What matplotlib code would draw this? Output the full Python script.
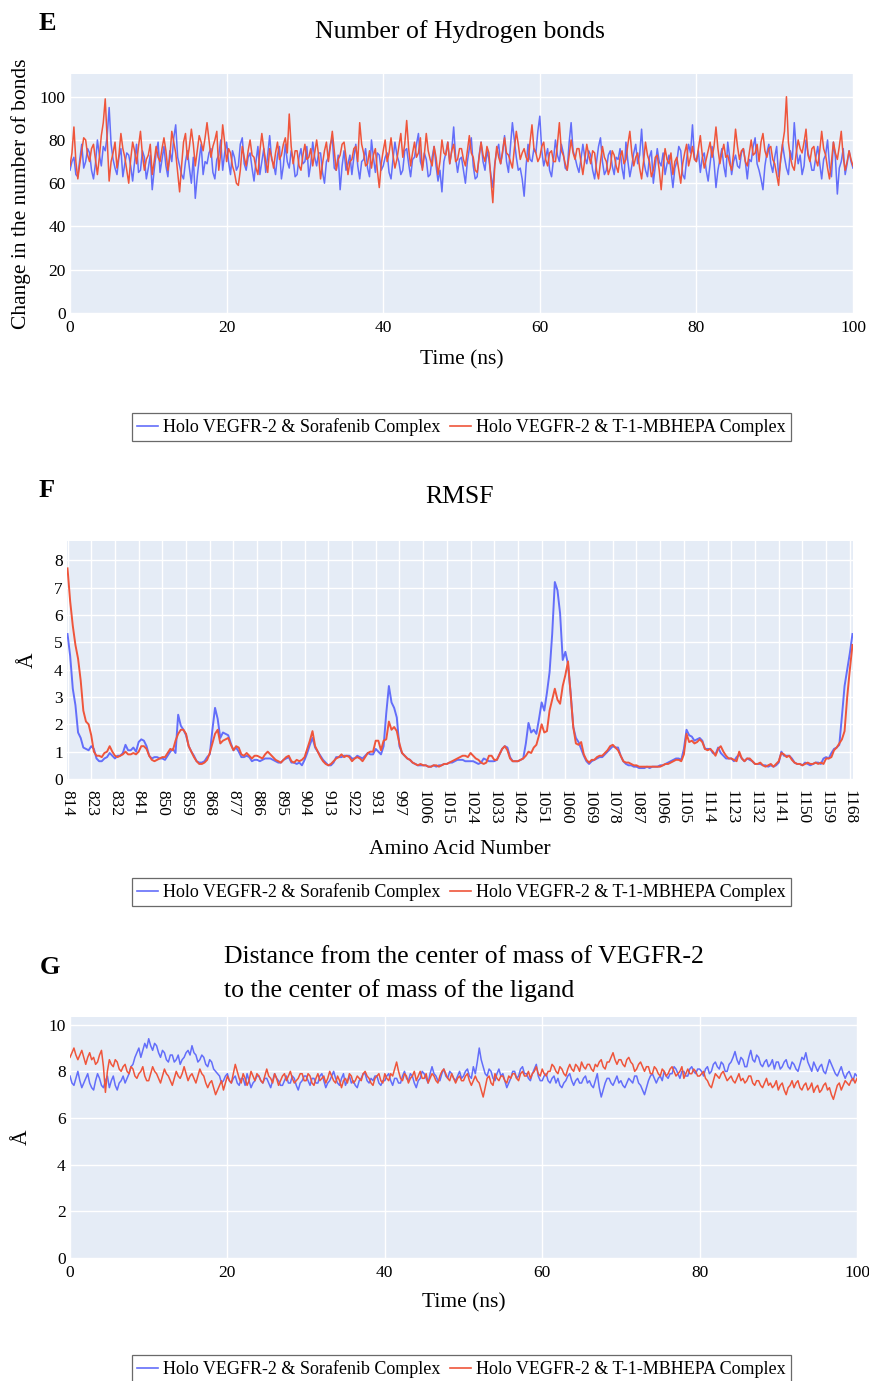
import numpy as np
import matplotlib
matplotlib.use("Agg")
import matplotlib.pyplot as plt
from matplotlib.lines import Line2D

plt.rcParams['font.family'] = ['Liberation Serif', 'DejaVu Serif']

# ---------------- data ----------------
series_names = ["Holo VEGFR-2 & Sorafenib Complex", "Holo VEGFR-2 & T-1-MBHEPA Complex"]
colors = ["#636EFA", "#EF553B"]

time_ns = [i * 0.25 for i in range(401)]

hbond_sorafenib = [
    66, 70, 72, 64, 63, 71, 78, 67, 70, 76, 74, 66, 62, 69, 80, 73, 68, 77, 75, 82,
    95, 78, 71, 67, 64, 72, 76, 63, 69, 74, 73, 68, 61, 70, 78, 65, 66, 75, 72, 62,
    67, 73, 57, 66, 74, 79, 65, 71, 77, 68, 63, 75, 70, 81, 87, 72, 68, 64, 62, 70,
    75, 67, 60, 72, 53, 63, 71, 78, 64, 70, 69, 74, 76, 65, 62, 71, 73, 80, 66, 74,
    79, 70, 64, 75, 72, 66, 68, 78, 81, 69, 66, 72, 74, 67, 61, 70, 77, 64, 70, 76,
    65, 73, 82, 71, 69, 64, 73, 77, 62, 68, 78, 70, 67, 75, 71, 63, 64, 72, 76, 69,
    70, 77, 63, 69, 79, 72, 68, 74, 74, 65, 60, 70, 72, 78, 81, 67, 66, 73, 57, 68,
    75, 66, 69, 73, 64, 72, 78, 68, 62, 70, 71, 76, 67, 63, 80, 72, 65, 74, 73, 66,
    68, 72, 74, 65, 62, 71, 79, 73, 70, 64, 66, 75, 76, 69, 63, 71, 72, 78, 83, 70,
    67, 74, 71, 63, 64, 72, 77, 68, 61, 66, 56, 70, 74, 79, 69, 75, 86, 72, 65, 71,
    72, 66, 60, 70, 76, 81, 68, 62, 63, 73, 79, 70, 66, 75, 71, 64, 58, 69, 75, 78,
    69, 74, 82, 70, 65, 77, 88, 80, 72, 66, 67, 62, 54, 68, 78, 71, 70, 76, 74, 84,
    91, 75, 68, 72, 76, 66, 63, 71, 80, 73, 70, 78, 74, 67, 66, 79, 88, 75, 72, 68,
    65, 71, 78, 72, 69, 75, 73, 66, 62, 70, 77, 81, 70, 64, 66, 73, 75, 68, 64, 72,
    71, 76, 67, 62, 79, 70, 63, 68, 74, 78, 69, 73, 85, 71, 66, 63, 72, 75, 60, 68,
    76, 70, 68, 74, 64, 69, 73, 66, 58, 67, 70, 77, 75, 64, 62, 71, 78, 74, 87, 72,
    70, 75, 65, 72, 74, 66, 61, 69, 77, 70, 58, 66, 71, 76, 68, 63, 79, 72, 64, 70,
    73, 68, 67, 74, 76, 70, 62, 71, 70, 77, 81, 69, 66, 62, 57, 68, 74, 78, 69, 65,
    72, 77, 63, 70, 78, 72, 67, 64, 75, 71, 88, 76, 69, 73, 64, 68, 80, 74, 71, 66,
    66, 72, 77, 69, 62, 71, 73, 80, 68, 63, 79, 72, 55, 67, 70, 76, 64, 69, 75, 70,
    67,
]
hbond_mbhepa = [
    68, 74, 86, 70, 62, 69, 75, 81, 80, 73, 70, 76, 78, 71, 64, 72, 82, 88, 99, 80,
    61, 70, 74, 79, 67, 73, 83, 76, 72, 66, 60, 71, 79, 75, 69, 77, 84, 73, 66, 71,
    73, 78, 64, 70, 77, 72, 70, 76, 81, 75, 66, 72, 84, 79, 74, 65, 56, 68, 79, 83,
    71, 77, 85, 78, 68, 75, 82, 79, 75, 81, 88, 80, 72, 77, 80, 84, 66, 74, 87, 79,
    70, 76, 74, 68, 65, 60, 59, 66, 77, 72, 68, 75, 80, 73, 72, 67, 64, 75, 83, 76,
    70, 65, 76, 72, 67, 74, 79, 71, 73, 78, 81, 74, 92, 77, 69, 75, 75, 68, 66, 73,
    78, 71, 72, 76, 68, 74, 80, 73, 62, 69, 75, 79, 70, 77, 84, 75, 66, 71, 73, 78,
    79, 72, 64, 70, 71, 76, 77, 70, 88, 78, 74, 68, 69, 75, 67, 73, 76, 66, 58, 69,
    75, 80, 70, 74, 81, 73, 67, 71, 77, 83, 72, 78, 89, 76, 68, 74, 79, 72, 74, 81,
    66, 73, 83, 75, 71, 68, 77, 72, 64, 70, 80, 74, 73, 79, 69, 75, 78, 70, 71, 76,
    76, 71, 68, 75, 82, 74, 72, 66, 65, 72, 79, 73, 70, 77, 74, 62, 51, 68, 77, 72,
    69, 75, 81, 74, 73, 70, 67, 76, 84, 78, 71, 74, 76, 72, 70, 79, 87, 76, 74, 70,
    72, 77, 79, 71, 68, 74, 75, 70, 70, 78, 88, 75, 73, 69, 66, 73, 80, 74, 71, 76,
    76, 70, 64, 71, 78, 73, 69, 75, 74, 66, 62, 70, 77, 72, 70, 64, 67, 75, 73, 68,
    65, 72, 75, 69, 71, 78, 84, 74, 68, 72, 74, 67, 62, 70, 79, 73, 70, 63, 66, 72,
    73, 66, 57, 68, 76, 71, 69, 74, 64, 70, 72, 66, 60, 69, 74, 78, 68, 72, 77, 71,
    70, 76, 82, 73, 67, 71, 75, 79, 72, 77, 86, 76, 69, 74, 78, 72, 73, 69, 66, 74,
    85, 77, 71, 75, 76, 70, 68, 74, 80, 73, 74, 78, 70, 79, 83, 75, 72, 76, 77, 71,
    69, 64, 59, 71, 78, 84, 100, 79, 72, 68, 66, 74, 80, 76, 74, 79, 85, 73, 70, 76,
    77, 71, 68, 75, 84, 76, 73, 67, 62, 70, 79, 74, 71, 77, 84, 72, 66, 70, 75, 71,
    68,
]

residues = list(range(814, 940)) + list(range(997, 1170))

rmsf_sorafenib = [
    5.3, 4.5, 3.3, 2.7, 1.7, 1.5, 1.15, 1.1, 1.05,
    1.2, 1.1, 0.75, 0.65, 0.65, 0.75, 0.8, 0.95, 0.85,
    0.75, 0.85, 0.85, 0.95, 1.25, 1.05, 1.05, 1.15, 1.0,
    1.35, 1.45, 1.4, 1.2, 0.85, 0.75, 0.8, 0.8, 0.75,
    0.75, 0.7, 0.85, 1.0, 1.1, 0.95, 2.35, 1.95, 1.8,
    1.6, 1.2, 1.0, 0.85, 0.65, 0.6, 0.6, 0.65, 0.8,
    0.9, 1.8, 2.6, 2.2, 1.5, 1.7, 1.65, 1.6, 1.3,
    1.05, 1.15, 1.0, 0.8, 0.8, 0.85, 0.8, 0.65, 0.7,
    0.7, 0.65, 0.7, 0.75, 0.75, 0.75, 0.7, 0.65, 0.6,
    0.6, 0.7, 0.75, 0.8, 0.6, 0.6, 0.55, 0.6, 0.5,
    0.7, 0.95, 1.25, 1.5, 1.15, 1.0, 0.85, 0.7, 0.6,
    0.5, 0.5, 0.6, 0.8, 0.8, 0.8, 0.85, 0.85, 0.85,
    0.75, 0.75, 0.85, 0.8, 0.75, 0.85, 0.95, 0.9, 0.9,
    1.1, 1.0, 0.9, 1.2, 2.4, 3.4, 2.8, 2.6, 2.25,
    1.2, 0.95, 0.85, 0.75, 0.7, 0.6, 0.55, 0.5, 0.5,
    0.5, 0.5, 0.45, 0.45, 0.5, 0.45, 0.5, 0.5, 0.55,
    0.55, 0.6, 0.6, 0.65, 0.7, 0.7, 0.7, 0.65, 0.65,
    0.65, 0.65, 0.6, 0.55, 0.6, 0.75, 0.7, 0.65, 0.65,
    0.65, 0.7, 0.9, 1.1, 1.2, 1.15, 0.8, 0.65, 0.65,
    0.65, 0.7, 0.75, 1.3, 2.05, 1.7, 1.8, 1.65, 2.2,
    2.8, 2.5, 3.15, 3.9, 5.3, 7.2, 6.9, 6.05, 4.35,
    4.65, 4.2, 3.15, 1.9, 1.5, 1.35, 1.1, 0.85, 0.65,
    0.55, 0.65, 0.7, 0.75, 0.8, 0.8, 0.9, 1.0, 1.1,
    1.2, 1.15, 1.15, 0.85, 0.65, 0.55, 0.5, 0.5, 0.45,
    0.45, 0.4, 0.4, 0.4, 0.45, 0.4, 0.45, 0.45, 0.45,
    0.5, 0.5, 0.55, 0.6, 0.65, 0.7, 0.75, 0.75, 0.7,
    1.1, 1.8, 1.6, 1.55, 1.4, 1.45, 1.5, 1.4, 1.1,
    1.1, 1.1, 0.95, 0.9, 1.15, 0.95, 0.85, 0.75, 0.75,
    0.75, 0.65, 0.8, 0.9, 0.75, 0.65, 0.75, 0.7, 0.65,
    0.55, 0.55, 0.55, 0.5, 0.5, 0.45, 0.5, 0.45, 0.5,
    0.6, 1.0, 0.85, 0.85, 0.85, 0.75, 0.6, 0.55, 0.55,
    0.5, 0.6, 0.55, 0.5, 0.55, 0.6, 0.6, 0.55, 0.75,
    0.8, 0.75, 0.95, 1.1, 1.15, 1.25, 2.3, 3.4, 4.0,
    4.6, 5.3,
]
rmsf_mbhepa = [
    7.7, 6.5, 5.6, 4.9, 4.4, 3.6, 2.5, 2.1, 2.0,
    1.6, 1.0, 0.85, 0.85, 0.8, 0.95, 1.0, 1.2, 1.0,
    0.85, 0.8, 0.85, 0.9, 1.0, 0.9, 0.9, 0.95, 0.9,
    1.0, 1.2, 1.2, 1.1, 0.85, 0.7, 0.65, 0.7, 0.75,
    0.8, 0.8, 0.95, 1.1, 1.05, 1.4, 1.65, 1.8, 1.8,
    1.65, 1.2, 1.0, 0.8, 0.65, 0.55, 0.55, 0.6, 0.7,
    0.95, 1.3, 1.65, 1.8, 1.3, 1.4, 1.45, 1.5, 1.25,
    1.05, 1.2, 1.15, 0.9, 0.85, 0.95, 0.85, 0.75, 0.85,
    0.85, 0.8, 0.75, 0.9, 1.0, 0.9, 0.8, 0.7, 0.65,
    0.6, 0.7, 0.8, 0.85, 0.65, 0.6, 0.7, 0.65, 0.7,
    0.8, 1.1, 1.4, 1.75, 1.2, 1.0, 0.8, 0.65, 0.55,
    0.5, 0.55, 0.65, 0.75, 0.8, 0.9, 0.8, 0.85, 0.8,
    0.65, 0.75, 0.8, 0.75, 0.65, 0.8, 0.95, 1.0, 1.0,
    1.4, 1.4, 1.05, 1.4, 1.45, 2.1, 1.8, 1.9, 1.75,
    1.3, 0.95, 0.85, 0.75, 0.7, 0.6, 0.55, 0.5, 0.55,
    0.5, 0.5, 0.45, 0.45, 0.5, 0.5, 0.45, 0.5, 0.55,
    0.55, 0.6, 0.65, 0.7, 0.75, 0.8, 0.85, 0.85, 0.8,
    0.95, 0.85, 0.75, 0.7, 0.6, 0.55, 0.6, 0.85, 0.85,
    0.7, 0.7, 0.9, 1.1, 1.2, 1.05, 0.75, 0.65, 0.65,
    0.65, 0.7, 0.75, 0.85, 1.0, 0.95, 1.15, 1.25, 1.6,
    2.0, 1.7, 1.75, 2.5, 2.9, 3.3, 2.9, 2.75, 3.4,
    3.8, 4.3, 3.1, 1.9, 1.3, 1.25, 1.35, 0.9, 0.7,
    0.6, 0.7, 0.7, 0.8, 0.85, 0.85, 0.95, 1.05, 1.2,
    1.25, 1.15, 1.05, 0.85, 0.65, 0.6, 0.6, 0.55, 0.5,
    0.5, 0.45, 0.45, 0.45, 0.45, 0.45, 0.45, 0.45, 0.45,
    0.45, 0.5, 0.55, 0.55, 0.6, 0.65, 0.7, 0.7, 0.65,
    0.9, 1.65, 1.35, 1.4, 1.3, 1.35, 1.45, 1.35, 1.1,
    1.05, 1.1, 1.0, 0.85, 1.1, 1.2, 1.0, 0.85, 0.75,
    0.75, 0.7, 0.65, 1.0, 0.75, 0.65, 0.75, 0.75, 0.65,
    0.55, 0.55, 0.6, 0.5, 0.45, 0.5, 0.55, 0.45, 0.55,
    0.65, 0.95, 0.9, 0.8, 0.85, 0.7, 0.6, 0.55, 0.55,
    0.5, 0.55, 0.6, 0.55, 0.55, 0.6, 0.55, 0.6, 0.55,
    0.75, 0.75, 0.8, 1.05, 1.15, 1.3, 1.45, 1.75, 3.0,
    4.0, 4.9,
]

dist_sorafenib = [
    7.8, 7.5, 7.4, 7.7, 8.0, 7.6, 7.3, 7.5, 7.7, 7.9, 7.5, 7.3, 7.2, 7.6, 7.9, 7.7, 7.4, 7.3, 7.6, 7.8,
    7.3, 7.6, 7.8, 7.4, 7.2, 7.5, 7.6, 7.8, 7.5, 7.7, 7.9, 8.2, 8.3, 8.6, 8.8, 9.0, 8.6, 8.9, 9.2, 9.0,
    9.4, 9.1, 8.9, 9.2, 9.1, 8.8, 8.6, 8.9, 8.8, 8.5, 8.4, 8.7, 8.7, 8.4, 8.5, 8.7, 8.3, 8.5, 8.6, 8.8,
    8.9, 8.7, 9.1, 8.8, 8.7, 8.4, 8.5, 8.7, 8.6, 8.3, 8.2, 8.5, 8.4, 8.1, 8.0, 7.9, 7.8, 7.5, 7.6, 7.8,
    7.9, 7.6, 7.5, 7.7, 7.8, 7.5, 7.4, 7.7, 7.7, 7.4, 7.9, 7.6, 7.3, 7.5, 7.6, 7.8, 7.8, 7.6, 7.5, 7.7,
    7.7, 7.5, 7.3, 7.6, 7.9, 7.7, 7.6, 7.4, 7.4, 7.6, 7.8, 7.5, 7.5, 7.8, 7.7, 7.4, 7.2, 7.5, 7.6, 7.8,
    7.8, 7.6, 7.4, 7.7, 7.7, 7.5, 7.5, 7.8, 7.9, 7.6, 7.3, 7.5, 7.6, 7.8, 8.0, 7.7, 7.5, 7.4, 7.7, 7.9,
    7.4, 7.6, 7.8, 7.5, 7.6, 7.4, 7.3, 7.6, 7.7, 7.9, 7.9, 7.6, 7.5, 7.7, 7.6, 7.8, 7.8, 7.5, 7.4, 7.6,
    7.6, 7.8, 7.9, 7.6, 7.4, 7.7, 7.7, 7.5, 7.5, 7.8, 8.0, 7.7, 7.6, 7.9, 7.8, 7.5, 7.3, 7.6, 7.7, 8.0,
    7.9, 7.7, 7.5, 7.9, 8.2, 7.9, 7.8, 7.6, 7.6, 7.9, 8.1, 7.8, 7.7, 8.0, 7.9, 7.7, 7.6, 7.8, 8.0, 7.7,
    7.8, 8.0, 8.1, 7.8, 7.7, 8.2, 7.9, 8.4, 9.0, 8.5, 8.2, 7.9, 7.8, 8.1, 8.0, 7.7, 7.6, 7.9, 8.1, 7.8,
    7.9, 7.6, 7.3, 7.5, 7.7, 8.0, 8.0, 7.7, 7.8, 8.1, 8.2, 7.9, 7.9, 7.7, 7.6, 7.9, 8.1, 8.3, 7.8, 7.6,
    7.6, 7.8, 7.9, 7.6, 7.5, 7.7, 7.8, 7.5, 7.7, 7.4, 7.3, 7.5, 7.6, 7.8, 7.9, 7.6, 7.4, 7.6, 7.7, 7.5,
    7.5, 7.7, 7.8, 7.5, 7.6, 7.4, 7.3, 7.6, 7.9, 7.3, 6.9, 7.2, 7.5, 7.7, 7.7, 7.5, 7.4, 7.6, 7.8, 7.5,
    7.6, 7.4, 7.3, 7.5, 7.7, 7.6, 7.5, 7.8, 7.8, 7.5, 7.4, 7.2, 7.0, 7.3, 7.6, 7.8, 7.9, 7.7, 7.5, 7.7,
    7.8, 7.6, 8.0, 7.8, 7.7, 7.9, 7.9, 8.2, 8.1, 7.9, 7.7, 8.0, 8.0, 7.8, 7.8, 8.1, 8.2, 8.0, 7.9, 8.1,
    8.1, 8.0, 7.8, 8.1, 8.2, 7.9, 8.0, 8.3, 8.4, 8.2, 8.1, 8.4, 8.3, 8.0, 8.0, 8.3, 8.4, 8.6, 8.85, 8.5,
    8.3, 8.6, 8.5, 8.2, 8.2, 8.6, 8.9, 8.5, 8.4, 8.7, 8.6, 8.3, 8.2, 8.4, 8.5, 8.2, 8.3, 8.5, 8.1, 8.4,
    8.4, 8.1, 8.2, 8.4, 8.5, 8.2, 8.1, 8.4, 8.3, 8.1, 8.0, 8.3, 8.6, 8.5, 8.8, 8.4, 8.2, 8.0, 8.4, 8.2,
    8.0, 8.2, 8.3, 8.0, 7.9, 8.2, 8.5, 8.3, 8.1, 7.9, 7.8, 8.0, 8.2, 7.9, 7.7, 7.9, 8.0, 7.8, 7.6, 7.9,
    7.8,
]
dist_mbhepa = [
    8.6, 8.8, 9.0, 8.7, 8.5, 8.7, 8.9, 8.6, 8.3, 8.6, 8.8, 8.5, 8.6, 8.3, 8.4, 8.7, 8.9, 8.2, 7.1, 8.0,
    8.5, 8.3, 8.2, 8.5, 8.4, 8.1, 8.0, 8.2, 8.3, 8.0, 7.9, 8.2, 8.1, 7.8, 7.7, 7.9, 8.0, 8.2, 7.8, 7.6,
    7.6, 7.9, 8.2, 8.0, 7.9, 7.7, 7.5, 7.8, 8.1, 7.9, 7.8, 7.6, 7.4, 7.7, 8.0, 7.8, 7.7, 7.9, 8.2, 7.9,
    7.6, 7.8, 7.9, 7.7, 7.5, 7.8, 8.1, 7.9, 7.8, 7.5, 7.3, 7.5, 7.6, 7.3, 7.0, 7.2, 7.4, 7.6, 7.2, 7.5,
    7.8, 7.6, 7.5, 7.9, 8.3, 8.0, 7.7, 7.5, 7.9, 7.7, 7.4, 7.6, 8.0, 7.8, 7.6, 7.9, 7.8, 7.6, 7.5, 7.8,
    8.1, 7.8, 7.7, 7.5, 7.9, 7.7, 7.4, 7.6, 7.8, 7.9, 7.6, 7.8, 8.0, 7.7, 7.5, 7.6, 7.7, 7.9, 7.9, 7.6,
    7.6, 7.9, 7.8, 7.5, 7.4, 7.7, 7.9, 7.6, 7.7, 7.8, 7.5, 7.7, 8.0, 7.8, 7.6, 7.5, 7.8, 7.6, 7.3, 7.6,
    7.7, 7.5, 7.9, 7.8, 7.5, 7.6, 7.8, 7.7, 7.6, 7.9, 8.0, 7.8, 7.7, 7.5, 7.4, 7.7, 7.8, 7.9, 7.6, 7.5,
    7.9, 7.7, 7.6, 7.9, 7.8, 8.1, 8.4, 8.0, 7.7, 7.6, 7.9, 7.8, 7.5, 7.7, 7.8, 8.0, 7.6, 7.8, 8.0, 7.7,
    7.7, 7.9, 7.5, 7.7, 7.9, 7.8, 7.6, 7.5, 7.8, 8.0, 8.1, 7.9, 7.7, 7.6, 7.9, 7.7, 7.5, 7.7, 7.8, 7.6,
    7.6, 7.8, 7.9, 7.6, 7.4, 7.6, 7.8, 7.6, 7.5, 7.2, 6.9, 7.3, 7.7, 7.8, 7.5, 7.4, 7.9, 7.7, 7.6, 7.8,
    7.8, 7.6, 7.5, 7.8, 7.7, 7.9, 7.9, 7.7, 7.6, 7.9, 8.0, 7.8, 7.8, 8.0, 7.7, 7.9, 8.0, 8.2, 7.9, 7.8,
    8.1, 7.9, 7.8, 8.0, 8.0, 8.3, 8.2, 8.0, 7.9, 8.2, 8.1, 7.9, 7.8, 8.1, 8.3, 8.1, 8.0, 8.3, 8.2, 8.0,
    8.4, 8.2, 8.1, 8.3, 8.3, 8.1, 8.0, 8.3, 8.2, 8.4, 8.5, 8.2, 8.1, 8.4, 8.4, 8.6, 8.8, 8.5, 8.3, 8.5,
    8.5, 8.3, 8.2, 8.5, 8.6, 8.4, 8.3, 8.0, 8.1, 8.3, 8.4, 8.2, 8.0, 8.2, 8.2, 7.9, 7.9, 8.2, 8.1, 7.9,
    7.8, 8.1, 8.0, 7.8, 7.9, 8.1, 8.2, 8.0, 7.8, 7.9, 8.0, 8.2, 7.7, 7.9, 8.1, 7.9, 7.9, 8.1, 8.0, 7.8,
    7.8, 7.9, 8.0, 7.7, 7.6, 7.4, 7.3, 7.6, 7.9, 7.8, 7.7, 7.9, 8.0, 7.8, 7.6, 7.7, 7.8, 7.6, 7.5, 7.7,
    7.9, 7.6, 7.7, 7.5, 7.6, 7.8, 7.8, 7.5, 7.4, 7.6, 7.6, 7.4, 7.3, 7.5, 7.7, 7.4, 7.5, 7.3, 7.4, 7.6,
    7.2, 7.4, 7.5, 7.2, 7.0, 7.3, 7.4, 7.6, 7.3, 7.5, 7.6, 7.3, 7.2, 7.4, 7.5, 7.2, 7.3, 7.5, 7.1, 7.3,
    7.4, 7.1, 7.2, 7.4, 7.5, 7.2, 7.3, 7.0, 6.8, 7.1, 7.4, 7.5, 7.2, 7.4, 7.6, 7.5, 7.4, 7.6, 7.7, 7.5,
    7.7,
]

time_ticks = [0, 20, 40, 60, 80, 100]

# ---------------- figure ----------------
W, H = 869, 1381
fig = plt.figure(figsize=(W / 100, H / 100), dpi=100)
BG = "#E5ECF6"
TICK_FS = 12.5
LAB_FS = 15.5
TITLE_FS = 18.5
LETTER_FS = 19


def px_axes(left, top, right, bottom):
    return fig.add_axes([left / W, 1 - bottom / H, (right - left) / W, (bottom - top) / H])


def style(ax):
    ax.set_facecolor(BG)
    for s in ax.spines.values():
        s.set_visible(False)
    ax.grid(True, color="white", linewidth=1.0)
    ax.set_axisbelow(True)
    ax.tick_params(length=0, labelsize=TICK_FS, pad=3)


def legend_at(ycenter):
    handles = [Line2D([0], [0], color=c, lw=1.2) for c in colors]
    lg = fig.legend(handles, series_names, loc="center", bbox_to_anchor=(461.5 / W, 1 - ycenter / H),
                    ncol=2, frameon=True, fancybox=False, fontsize=13, handlelength=1.15,
                    handletextpad=0.3, columnspacing=0.5, borderpad=0.3, borderaxespad=0)
    lg.get_frame().set_edgecolor("#444444")
    lg.get_frame().set_linewidth(0.9)
    lg.get_frame().set_facecolor("white")


# ---- Panel E ----
axE = px_axes(70, 74, 853, 313)
style(axE)
axE.plot(time_ns, hbond_sorafenib, color=colors[0], lw=1.1)
axE.plot(time_ns, hbond_mbhepa, color=colors[1], lw=1.1)
axE.set_xlim(0, 100)
axE.set_ylim(0, 110.5)
axE.set_xticks(time_ticks)
axE.set_yticks([0, 20, 40, 60, 80, 100])
axE.tick_params(axis="x", pad=5)
axE.set_xlabel("Time (ns)", fontsize=LAB_FS, labelpad=10)
axE.set_ylabel("Change in the number of bonds", fontsize=LAB_FS, labelpad=6)
fig.text(460 / W, 1 - 32 / H, "Number of Hydrogen bonds", ha="center", va="center", fontsize=TITLE_FS)
fig.text(47 / W, 1 - 23 / H, "E", ha="center", va="center", fontsize=LETTER_FS, fontweight="bold")
legend_at(427)

# ---- Panel F ----
axF = px_axes(67, 541, 853, 779)
style(axF)
idx = list(range(len(residues)))
axF.plot(idx, rmsf_sorafenib, color=colors[0], lw=1.4)
axF.plot(idx, rmsf_mbhepa, color=colors[1], lw=1.4)
axF.set_xlim(-0.2, len(residues) - 1 + 0.2)
axF.set_ylim(0, 8.7)
axF.set_yticks(range(0, 9))
tick_idx = idx[::9]
axF.set_xticks(tick_idx)
axF.set_xticklabels([str(residues[i]) for i in tick_idx], rotation=-90)
axF.tick_params(axis="x", pad=8)
axF.set_xlabel("Amino Acid Number", fontsize=LAB_FS, labelpad=11)
axF.set_ylabel("Å", fontsize=LAB_FS, labelpad=12)
fig.text(460 / W, 1 - 497 / H, "RMSF", ha="center", va="center", fontsize=TITLE_FS)
fig.text(47 / W, 1 - 490 / H, "F", ha="center", va="center", fontsize=LETTER_FS, fontweight="bold")
legend_at(892)

# ---- Panel G ----
axG = px_axes(70, 1017, 857, 1258)
style(axG)
axG.plot(time_ns, dist_sorafenib, color=colors[0], lw=1.1)
axG.plot(time_ns, dist_mbhepa, color=colors[1], lw=1.1)
axG.set_xlim(0, 100)
axG.set_ylim(0, 10.33)
axG.set_xticks(time_ticks)
axG.set_yticks([0, 2, 4, 6, 8, 10])
axG.tick_params(axis="x", pad=5)
axG.set_xlabel("Time (ns)", fontsize=LAB_FS, labelpad=9)
axG.set_ylabel("Å", fontsize=LAB_FS, labelpad=12)
fig.text(224 / W, 1 - 957 / H, "Distance from the center of mass of VEGFR-2", ha="left", va="center",
         fontsize=TITLE_FS)
fig.text(224 / W, 1 - 991 / H, "to the center of mass of the ligand", ha="left", va="center",
         fontsize=TITLE_FS)
fig.text(50 / W, 1 - 967 / H, "G", ha="center", va="center", fontsize=LETTER_FS, fontweight="bold")
legend_at(1369)

fig.savefig("out.png", dpi=100, facecolor="white")
